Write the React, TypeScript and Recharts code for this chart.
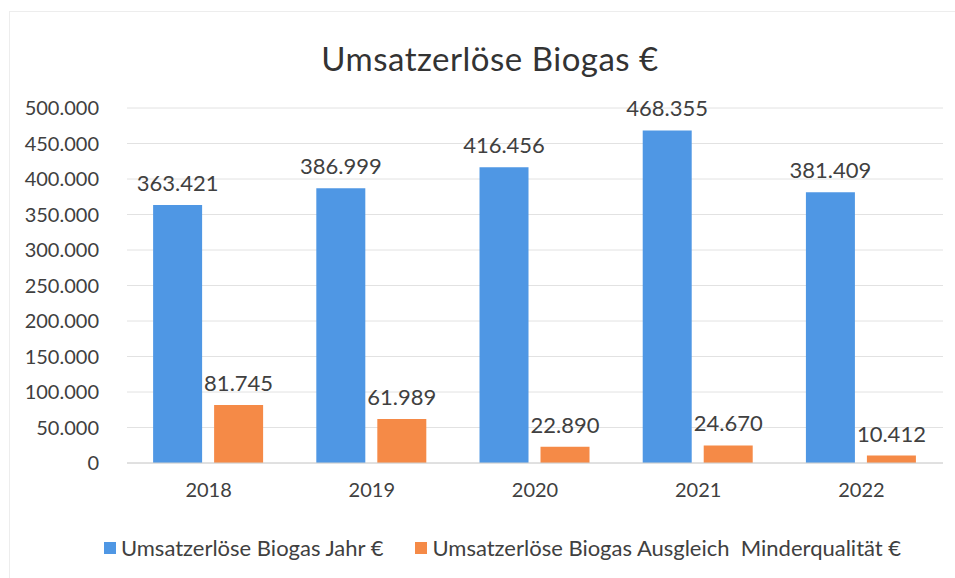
import { Bar, BarChart, CartesianGrid, LabelList, XAxis, YAxis } from 'recharts';

const years = ['2018', '2019', '2020', '2021', '2022'];
const umsatzJahr = [363421, 386999, 416456, 468355, 381409];
const ausgleichMinderqualitaet = [81745, 61989, 22890, 24670, 10412];
const yTicks = [0, 50000, 100000, 150000, 200000, 250000, 300000, 350000, 400000, 450000, 500000];
const seriesNames = ['Umsatzerlöse Biogas Jahr €', 'Umsatzerlöse Biogas Ausgleich  Minderqualität €'];

const FONT = 'Lato, "Open Sans", sans-serif';
const BLUE = '#4f97e4';
const ORANGE = '#f58a47';
const TEXT = '#404040';

const formatDe = (v: number) => {
  const s = Math.round(v).toString();
  return s.replace(/\B(?=(\d{3})+(?!\d))/g, '.');
};

const data = years.map((year, i) => ({
  year,
  jahr: umsatzJahr[i],
  ausgleich: ausgleichMinderqualitaet[i],
}));

export default function App() {
  const colors = [BLUE, ORANGE];
  return (
    <div
      style={{
        position: 'absolute',
        left: 0,
        top: 0,
        width: 955,
        height: 578,
        background: '#fff',
        fontFamily: FONT,
      }}
    >
      {/* faint frame of the scanned chart */}
      <div
        style={{
          position: 'absolute',
          left: 9,
          top: 11,
          width: 960,
          height: 600,
          borderLeft: '1px solid #ededed',
          borderTop: '1px solid #ededed',
        }}
      />
      <div
        style={{
          position: 'absolute',
          top: 38,
          left: 0,
          width: 980,
          textAlign: 'center',
          fontSize: 33,
          color: '#333',
          letterSpacing: 0.5,
        }}
      >
        Umsatzerlöse Biogas €
      </div>
      <BarChart
        width={955}
        height={578}
        data={data}
        margin={{ top: 108, right: 12, bottom: 70, left: 0 }}
        barGap={12}
        barCategoryGap="16%"
        style={{ position: 'absolute', left: 0, top: 0 }}
      >
        <CartesianGrid vertical={false} stroke="#e2e2e2" />
        <XAxis
          dataKey="year"
          axisLine={{ stroke: '#d0d0d0' }}
          tickLine={false}
          height={45}
          tickMargin={14}
          tick={{ fontSize: 20, fill: TEXT, fontFamily: FONT }}
        />
        <YAxis
          width={127}
          domain={[0, 500000]}
          ticks={yTicks}
          axisLine={false}
          tickLine={false}
          tickMargin={22}
          tickFormatter={formatDe}
          tick={{ fontSize: 20, fill: TEXT, fontFamily: FONT }}
        />
        <Bar dataKey="jahr" name={seriesNames[0]} fill={BLUE} isAnimationActive={false}>
          <LabelList
            dataKey="jahr"
            position="top"
            offset={14}
            formatter={(v: any) => formatDe(Number(v))}
            style={{ fontSize: 22, fill: TEXT, fontFamily: FONT }}
          />
        </Bar>
        <Bar dataKey="ausgleich" name={seriesNames[1]} fill={ORANGE} isAnimationActive={false}>
          <LabelList
            dataKey="ausgleich"
            position="top"
            offset={14}
            formatter={(v: any) => formatDe(Number(v))}
            style={{ fontSize: 22, fill: TEXT, fontFamily: FONT }}
          />
        </Bar>
      </BarChart>
      <div
        style={{
          position: 'absolute',
          top: 534,
          left: 0,
          width: 1005,
          display: 'flex',
          justifyContent: 'center',
          gap: 32,
          fontSize: 22,
          color: TEXT,
          whiteSpace: 'pre',
        }}
      >
        {seriesNames.map((name, i) => (
          <span key={name} style={{ display: 'flex', alignItems: 'center' }}>
            <span style={{ width: 12, height: 12, background: colors[i], marginRight: 5 }} />
            {name}
          </span>
        ))}
      </div>
    </div>
  );
}
